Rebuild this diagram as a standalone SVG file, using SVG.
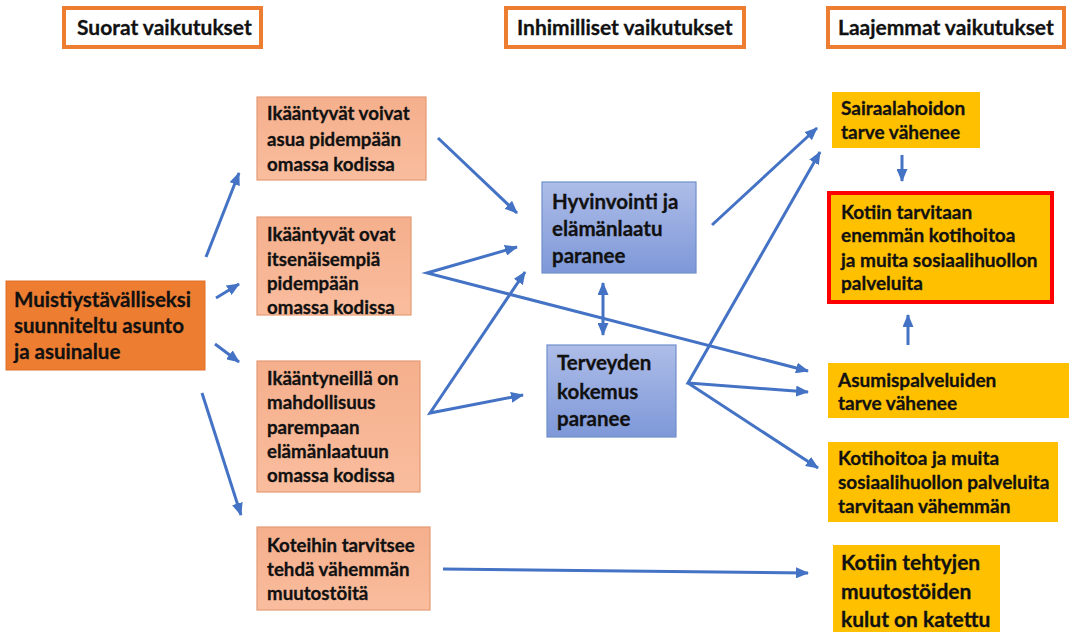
<svg xmlns="http://www.w3.org/2000/svg" width="1069" height="632" viewBox="0 0 1069 632">
<defs>
<linearGradient id="gBlue" x1="0" y1="0" x2="0" y2="1"><stop offset="0" stop-color="#AEBDE8"/><stop offset="1" stop-color="#7E98D8"/></linearGradient>
<linearGradient id="gPeach" x1="0" y1="0" x2="0" y2="1"><stop offset="0" stop-color="#F5AF8C"/><stop offset="1" stop-color="#F9BD9E"/></linearGradient>
<marker id="ah" viewBox="0 0 13 11" refX="12" refY="5.5" markerWidth="13" markerHeight="11" markerUnits="userSpaceOnUse" orient="auto-start-reverse"><path d="M0,0 L13,5.5 L0,11 Z" fill="#4472C4"/></marker>
<style>
text{font-family:Lato,"Liberation Sans",sans-serif;font-weight:bold;fill:#111;stroke:#111;stroke-width:0.3;}
.hdr rect{fill:#fff;stroke:#ED7D31;stroke-width:4;}
.hdr text{font-size:21px;}
.src rect{fill:#ED7D31;stroke:#E07028;stroke-width:1;}
.src text{font-size:20.5px;}
.mid rect{fill:url(#gPeach);stroke:#E59A74;stroke-width:1.2;}
.mid text{font-size:18.7px;}
.hum rect{fill:url(#gBlue);stroke:#7090CC;stroke-width:1.2;}
.hum text{font-size:20.5px;}
.out rect{fill:#FFC000;stroke:none;}
.out text{font-size:19px;}
.red rect{stroke:#FF0000;stroke-width:4;}
.big text{font-size:21px;}
#connectors line,#connectors polyline{stroke:#4472C4;stroke-width:3;fill:none;}
</style>
</defs>
<rect width="1069" height="632" fill="#fff"/>

<g id="h1" class="hdr"><rect x="64" y="8" width="197" height="39"/><text x="77" y="35">Suorat vaikutukset</text></g>
<g id="h2" class="hdr"><rect x="506" y="8" width="238" height="39"/><text x="517" y="35">Inhimilliset vaikutukset</text></g>
<g id="h3" class="hdr"><rect x="828" y="8" width="236" height="39"/><text x="838" y="35">Laajemmat vaikutukset</text></g>

<g id="n0" class="src"><rect x="6" y="281" width="199" height="89"/>
<text x="14" y="307">Muistiystävälliseksi</text><text x="14" y="333">suunniteltu asunto</text><text x="14" y="359">ja asuinalue</text></g>

<g id="n1" class="mid"><rect x="257" y="97" width="169" height="83"/>
<text x="267" y="120">Ikääntyvät voivat</text><text x="267" y="146">asua pidempään</text><text x="267" y="171">omassa kodissa</text></g>

<g id="n2" class="mid"><rect x="257" y="217" width="154" height="98"/>
<text x="267" y="241">Ikääntyvät ovat</text><text x="267" y="266">itsenäisempiä</text><text x="267" y="290">pidempään</text><text x="267" y="314">omassa kodissa</text></g>

<g id="n3" class="mid"><rect x="257" y="361" width="163" height="131"/>
<text x="267" y="385">Ikääntyneillä on</text><text x="267" y="409">mahdollisuus</text><text x="267" y="434">parempaan</text><text x="267" y="458">elämänlaatuun</text><text x="267" y="482">omassa kodissa</text></g>

<g id="n4" class="mid"><rect x="257" y="527" width="173" height="83"/>
<text x="267" y="552">Koteihin tarvitsee</text><text x="267" y="576">tehdä vähemmän</text><text x="267" y="600">muutostöitä</text></g>

<g id="n5" class="hum"><rect x="542" y="182" width="154" height="91"/>
<text x="552" y="209">Hyvinvointi ja</text><text x="552" y="236">elämänlaatu</text><text x="552" y="263">paranee</text></g>

<g id="n6" class="hum"><rect x="547" y="345" width="129" height="92"/>
<text x="557" y="370">Terveyden</text><text x="557" y="399">kokemus</text><text x="557" y="426">paranee</text></g>

<g id="n7" class="out"><rect x="832" y="92" width="148" height="56"/>
<text x="841" y="115">Sairaalahoidon</text><text x="841" y="139">tarve vähenee</text></g>

<g id="n8" class="out red"><rect x="829" y="193" width="223" height="109"/>
<text x="841" y="219">Kotiin tarvitaan</text><text x="841" y="242">enemmän kotihoitoa</text><text x="841" y="267">ja muita sosiaalihuollon</text><text x="841" y="290">palveluita</text></g>

<g id="n9" class="out"><rect x="828" y="363" width="241" height="55"/>
<text x="838" y="387">Asumispalveluiden</text><text x="838" y="410">tarve vähenee</text></g>

<g id="n10" class="out"><rect x="828" y="442" width="230" height="80"/>
<text x="838" y="465">Kotihoitoa ja muita</text><text x="838" y="489">sosiaalihuollon palveluita</text><text x="838" y="513">tarvitaan vähemmän</text></g>

<g id="n11" class="out big"><rect x="833" y="545" width="167" height="87"/>
<text x="841" y="570">Kotiin tehtyjen</text><text x="841" y="599">muutostöiden</text><text x="841" y="627">kulut on katettu</text></g>

<g id="connectors">
<line x1="206" y1="257" x2="239" y2="173" marker-end="url(#ah)"/>
<line x1="216" y1="298" x2="239" y2="284" marker-end="url(#ah)"/>
<line x1="215" y1="344" x2="239" y2="362" marker-end="url(#ah)"/>
<line x1="202" y1="393" x2="241" y2="515" marker-end="url(#ah)"/>
<line x1="438" y1="138" x2="517" y2="213" marker-end="url(#ah)"/>
<polyline points="517,247 427,273 808,371" marker-start="url(#ah)" marker-end="url(#ah)"/>
<polyline points="525,272 430,413 523,395" marker-start="url(#ah)" marker-end="url(#ah)"/>
<line x1="603" y1="283" x2="603" y2="335" marker-start="url(#ah)" marker-end="url(#ah)"/>
<line x1="712" y1="225" x2="817" y2="128" marker-end="url(#ah)"/>
<polyline points="820,152 688,383 808,392" marker-start="url(#ah)" marker-end="url(#ah)"/>
<line x1="688" y1="383" x2="818" y2="468" marker-end="url(#ah)"/>
<line x1="443" y1="569" x2="808" y2="573" marker-end="url(#ah)"/>
<line x1="902" y1="155" x2="902" y2="181" marker-end="url(#ah)"/>
<line x1="908" y1="345" x2="908" y2="315" marker-end="url(#ah)"/>
</g>
</svg>
